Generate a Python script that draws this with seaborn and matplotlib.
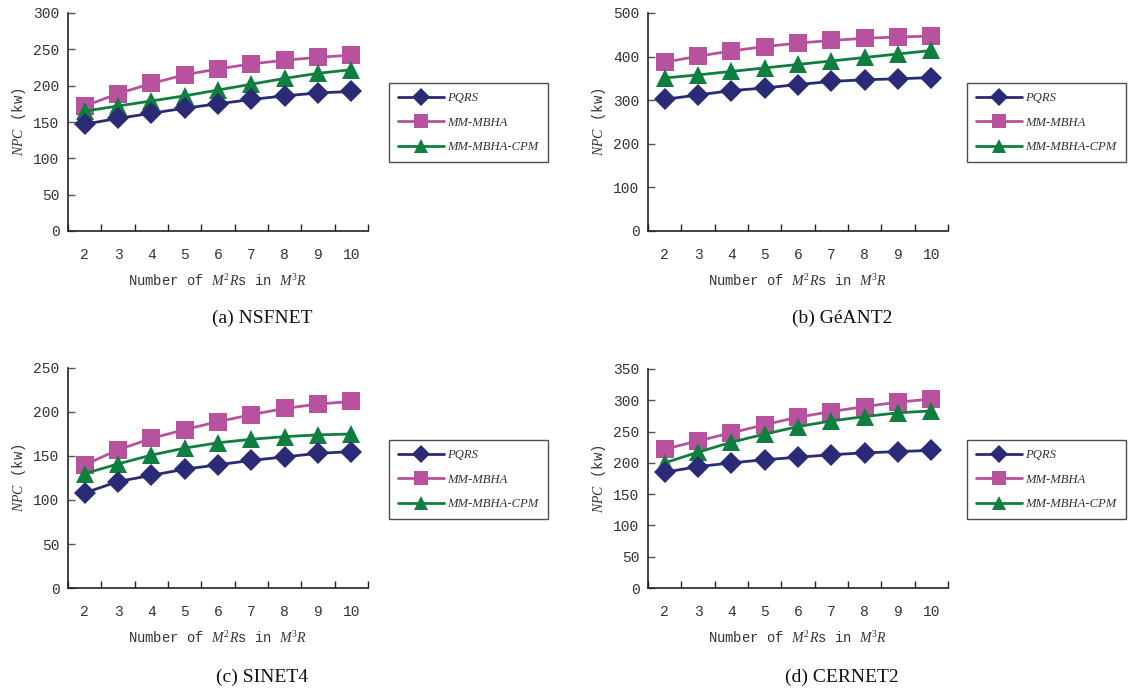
import matplotlib
matplotlib.use("Agg")
import matplotlib.pyplot as plt
import seaborn as sns
import pandas as pd
from matplotlib.ticker import FixedLocator

sns.set_style("white")
plt.rcParams['font.family'] = ['Liberation Mono', 'DejaVu Sans']
plt.rcParams['mathtext.fontset'] = 'custom'
plt.rcParams['mathtext.it'] = 'Liberation Serif:italic'
plt.rcParams['mathtext.rm'] = 'Liberation Serif'

# ---- data ----
n_m2r = [2, 3, 4, 5, 6, 7, 8, 9, 10]
methods = ["PQRS", "MM-MBHA", "MM-MBHA-CPM"]

nsfnet_pqrs = [147, 155, 162, 169, 175, 181, 186, 190, 192]
nsfnet_mbha = [172, 189, 203, 215, 223, 230, 235, 239, 242]
nsfnet_cpm = [165, 172, 179, 186, 194, 202, 210, 217, 222]

geant2_pqrs = [302, 312, 322, 328, 336, 343, 347, 349, 352]
geant2_mbha = [387, 401, 413, 423, 431, 437, 442, 445, 447]
geant2_cpm = [351, 358, 366, 374, 382, 390, 398, 406, 414]

sinet4_pqrs = [108, 121, 128, 135, 140, 145, 149, 153, 155]
sinet4_mbha = [140, 157, 170, 180, 189, 197, 204, 209, 212]
sinet4_cpm = [130, 141, 151, 159, 165, 169, 172, 174, 175]

cernet2_pqrs = [185, 194, 200, 205, 209, 213, 216, 218, 220]
cernet2_mbha = [222, 235, 248, 261, 273, 282, 290, 297, 302]
cernet2_cpm = [200, 217, 233, 246, 258, 267, 274, 280, 283]

captions = ["(a) NSFNET", "(b) GéANT2", "(c) SINET4", "(d) CERNET2"]
y_max = [300, 500, 250, 350]
y_step = [50, 100, 50, 50]

panels = [
    (nsfnet_pqrs, nsfnet_mbha, nsfnet_cpm),
    (geant2_pqrs, geant2_mbha, geant2_cpm),
    (sinet4_pqrs, sinet4_mbha, sinet4_cpm),
    (cernet2_pqrs, cernet2_mbha, cernet2_cpm),
]

palette = {"PQRS": "#2a2a76", "MM-MBHA": "#b8529e", "MM-MBHA-CPM": "#0f7f3f"}
markers = {"PQRS": "D", "MM-MBHA": "s", "MM-MBHA-CPM": "^"}
msize = {"PQRS": 11.5, "MM-MBHA": 12.5, "MM-MBHA-CPM": 13}

W, H = 1130, 692
fig = plt.figure(figsize=(W / 100, H / 100), dpi=100)

# axes boxes in pixels: left, top, right, bottom
boxes = [(68, 13, 368, 231), (648, 13, 948, 231),
         (68, 368, 368, 588), (648, 369, 948, 588)]
legend_pos = [(389, 83), (967, 83), (389, 440), (967, 440)]
caption_pos = [(262, 318), (842, 318), (262, 677), (842, 677)]

for i, (series, cap) in enumerate(zip(panels, captions)):
    l, t, r, b = boxes[i]
    ax = fig.add_axes([l / W, 1 - b / H, (r - l) / W, (b - t) / H])
    rows = []
    for m, vals in zip(methods, series):
        for x, v in zip(n_m2r, vals):
            rows.append({"n": x, "npc": v, "method": m})
    df = pd.DataFrame(rows)
    for m in methods:
        sub = df[df["method"] == m]
        sns.lineplot(data=sub, x="n", y="npc", color=palette[m], marker=markers[m],
                     markersize=msize[m], markeredgewidth=0, linewidth=2.0,
                     label=m, ax=ax, zorder=3 if m != "PQRS" else 4)
    ax.set_xlim(1.5, 10.5)
    ax.set_ylim(0, y_max[i])
    ax.set_yticks(range(0, y_max[i] + 1, y_step[i]))
    ax.set_xticks(n_m2r)
    ax.set_xticklabels([str(v) for v in n_m2r])
    ax.xaxis.set_minor_locator(FixedLocator([k + 0.5 for k in range(1, 11)]))
    ax.tick_params(axis="x", which="major", length=0, pad=12, labelsize=10.5, labelcolor="#333333")
    ax.tick_params(axis="x", which="minor", length=5, width=1, direction="in", color="#222222", bottom=True)
    ax.tick_params(axis="y", which="major", length=5, width=1, direction="in", color="#555555",
                   labelsize=10.5, labelcolor="#333333", pad=6, left=True)
    for s in ["top", "right"]:
        ax.spines[s].set_visible(False)
    for s in ["left", "bottom"]:
        ax.spines[s].set_color("#222222")
        ax.spines[s].set_linewidth(1.2)
    ax.set_xlabel("Number of $M^2R$s in $M^3R$", fontsize=10, color="#333333", labelpad=8)
    ax.set_ylabel("$NPC$ (kw)", fontsize=10, color="#333333", labelpad=4)
    lx, ly = legend_pos[i]
    leg = ax.legend(loc="upper left", bbox_to_anchor=(lx / W, 1 - ly / H),
                    bbox_transform=fig.transFigure, frameon=True, fancybox=False,
                    prop={"family": "Liberation Serif", "style": "italic", "size": 9.1},
                    handlelength=3.6, borderpad=0.72, labelspacing=1.0, handletextpad=0.3,
                    borderaxespad=0, markerscale=0.8)
    leg.get_frame().set_edgecolor("#222222")
    leg.get_frame().set_linewidth(1.0)
    for txt in leg.get_texts():
        txt.set_color("#333333")
    cx, cy = caption_pos[i]
    fig.text(cx / W, 1 - cy / H, cap, ha="center", va="center",
             fontsize=14, family="Liberation Serif", color="#111111")

fig.savefig("out.png", dpi=100)
